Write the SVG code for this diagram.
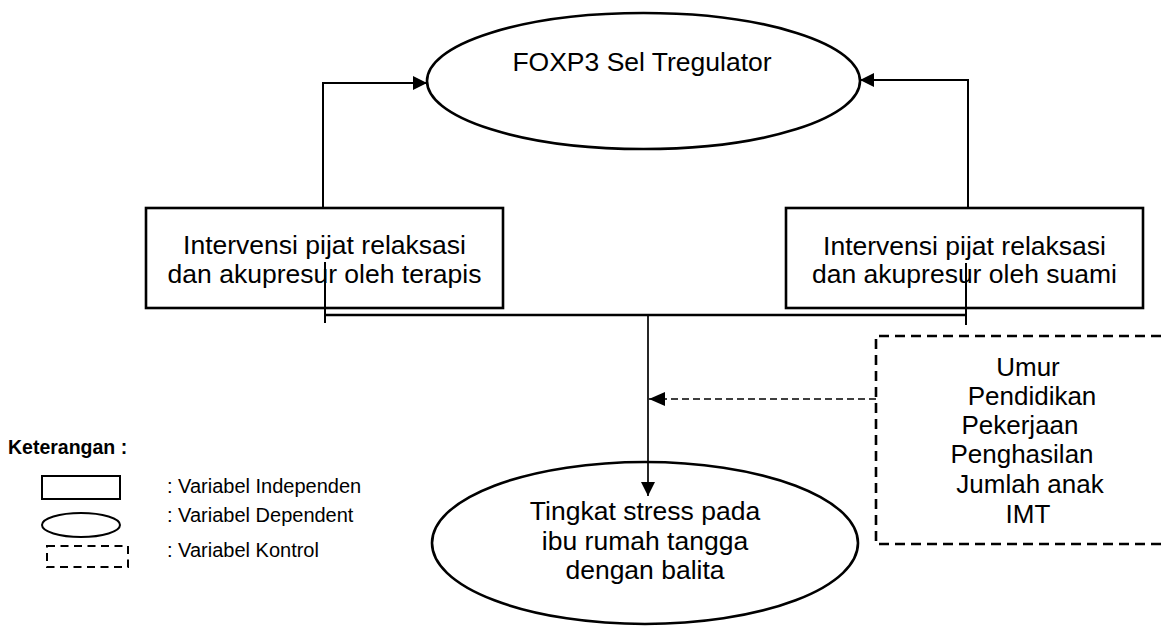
<svg xmlns="http://www.w3.org/2000/svg" width="1161" height="626" viewBox="0 0 1161 626">
<defs>
<marker id="arr" markerWidth="14" markerHeight="14" refX="14" refY="7" orient="auto" markerUnits="userSpaceOnUse">
<path d="M0,0 L14,7 L0,14 Z" fill="#000"/>
</marker>
<marker id="arr2" markerWidth="16" markerHeight="14" refX="16" refY="7" orient="auto" markerUnits="userSpaceOnUse">
<path d="M0,0 L16,7 L0,14 Z" fill="#000"/>
</marker>
</defs>
<style>
text{font-family:"Liberation Sans",Arial,sans-serif;fill:#000}
.t{font-size:26.5px;text-anchor:middle}
.c{font-size:26px;text-anchor:middle}
.lg{font-size:20px}
.node{fill:#fff;stroke:#000;stroke-width:2.6}
.ln{fill:none;stroke:#000}
</style>
<rect width="1161" height="626" fill="#fff"/>

<g id="foxp3">
<ellipse class="node" cx="643.5" cy="81" rx="216.5" ry="68"/>
<text class="t" x="642" y="71">FOXP3 Sel Tregulator</text>
</g>

<g id="terapis">
<rect class="node" x="146" y="208" width="357" height="100"/>
<text class="t" x="324.5" y="254">Intervensi pijat relaksasi</text>
<text class="t" x="324.5" y="283">dan akupresur oleh terapis</text>
</g>

<g id="suami">
<rect class="node" x="786" y="208" width="357" height="100"/>
<text class="t" x="964.5" y="255">Intervensi pijat relaksasi</text>
<text class="t" x="964.5" y="283">dan akupresur oleh suami</text>
</g>

<g id="kontrol">
<path class="ln" stroke-width="2.6" stroke-dasharray="10 6" d="M1161,336 H876 V544 H1161"/>
<text class="c" x="1028" y="376">Umur</text>
<text class="c" x="1032" y="405">Pendidikan</text>
<text class="c" x="1020" y="434">Pekerjaan</text>
<text class="c" x="1022" y="463">Penghasilan</text>
<text class="c" x="1030" y="493">Jumlah anak</text>
<text class="c" x="1028" y="523">IMT</text>
</g>

<g id="stress">
<ellipse class="node" cx="645" cy="543" rx="213" ry="81"/>
<text class="t" x="645" y="520">Tingkat stress pada</text>
<text class="t" x="645" y="550">ibu rumah tangga</text>
<text class="t" x="645" y="579">dengan balita</text>
</g>

<g id="legend">
<text x="8" y="454" font-size="19.5" font-weight="bold">Keterangan :</text>
<rect x="42" y="476" width="78" height="23" fill="#fff" stroke="#000" stroke-width="2"/>
<ellipse cx="81" cy="525" rx="39" ry="12" fill="#fff" stroke="#000" stroke-width="2"/>
<rect x="47" y="546" width="81" height="21" fill="none" stroke="#000" stroke-width="2" stroke-dasharray="8 5.5"/>
<text class="lg" x="167" y="493">: Variabel Independen</text>
<text class="lg" x="167" y="522">: Variabel Dependent</text>
<text class="lg" x="167" y="557">: Variabel Kontrol</text>
</g>

<g id="connectors">
<polyline class="ln" stroke-width="2" points="323,208 323,83 427,83" marker-end="url(#arr)"/>
<polyline class="ln" stroke-width="2" points="968,208 968,80 860,80" marker-end="url(#arr)"/>
<line class="ln" stroke-width="2.5" x1="325" y1="315" x2="966" y2="315"/>
<line class="ln" stroke-width="2" x1="325" y1="262" x2="325" y2="323"/>
<line class="ln" stroke-width="2" x1="966" y1="263" x2="966" y2="325"/>
<line class="ln" stroke-width="1.7" x1="648" y1="315" x2="648" y2="496" marker-end="url(#arr)"/>
<line class="ln" stroke-width="1.5" stroke-dasharray="7 4" x1="876" y1="399" x2="649" y2="399" marker-end="url(#arr2)"/>
</g>
</svg>
